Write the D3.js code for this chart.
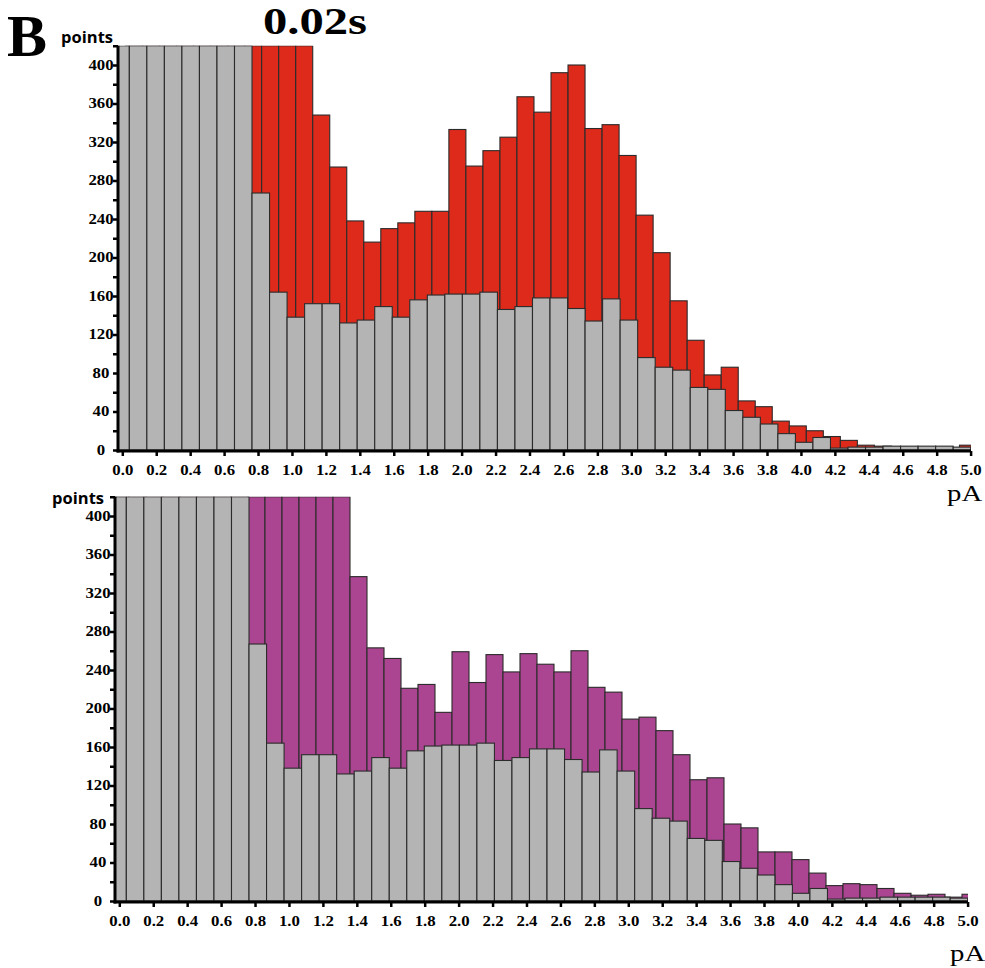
<!DOCTYPE html>
<html lang="en">
<head>
<meta charset="UTF-8">
<title>Amplitude histograms</title>
<script src="https://d3js.org/d3.v7.min.js"></script>
<style>
  body { margin: 0; background: #fff; }
  svg { display: block; }
</style>
</head>
<body>
<div id="chart"></div>
<script>
// Counts per bin. Bins that run past the top of the axis are entered as 420 (axis end).
const controlCounts = [420, 420, 420, 420, 420, 420, 420, 420,
  267, 164, 138, 152, 152, 132, 135, 149, 138, 156, 161, 162, 162, 164, 146, 149,
  158, 158, 147, 134, 157, 135, 96, 86, 83, 65, 63, 41, 34, 27, 17, 8, 13, 2,
  3, 3, 4, 4, 4, 4, 3];

const redCounts = [420, 420, 420, 420, 420, 420, 420, 420, 420, 420, 420,
  348, 294, 238, 216, 230, 236, 248, 248, 333, 295, 311, 325, 367, 351, 392, 400,
  334, 338, 306, 244, 205, 155, 114, 78, 86, 51, 45, 30, 25, 20, 14, 10, 5, 4,
  3, 2, 2, 2, 5];

const purpleCounts = [420, 420, 420, 420, 420, 420, 420, 420, 420, 420, 420, 420, 420, 420,
  337, 263, 252, 221, 225, 196, 259, 227, 256, 238, 257, 246, 238, 260, 222, 217,
  189, 191, 177, 152, 126, 128, 80, 76, 51, 51, 43, 29, 16, 18, 17, 13, 8, 6, 7, 4, 7];

const xTickValues = [0, 0.2, 0.4, 0.6, 0.8, 1.0, 1.2, 1.4, 1.6, 1.8, 2.0, 2.2, 2.4,
  2.6, 2.8, 3.0, 3.2, 3.4, 3.6, 3.8, 4.0, 4.2, 4.4, 4.6, 4.8, 5.0];
const yLabelValues = [0, 40, 80, 120, 160, 200, 240, 280, 320, 360, 400];
const yTickValues = d3.range(0, 421, 20);

const svgWidth = 985;
const svgHeight = 968;
const yMax = 420;
const axisX = 118;
const axisY = 451;
const plotRight = 971;
const stretch = 1.2;  // the printed figure is a little wider than tall

const svg = d3.select("#chart")
  .append("svg")
  .attr("width", svgWidth)
  .attr("height", svgHeight);

const y = d3.scaleLinear().domain([0, yMax]).range([450, 45.75]);
const x = d3.scaleLinear().domain([0, 5]).range([122.3, 970.6]);

const controlBand = d3.scaleBand()
  .domain(d3.range(controlCounts.length))
  .range([111.8, 970.7]);
const redBand = d3.scaleBand()
  .domain(d3.range(redCounts.length))
  .range([125.5, 976.5]);
const purpleBand = d3.scaleBand()
  .domain(d3.range(purpleCounts.length))
  .range([115, 982]);

const serif = "'Liberation Serif', 'Times New Roman', serif";

function drawPanel(g, id, counts, band, color) {
  g.append("clipPath").attr("id", id)
    .append("rect")
    .attr("x", axisX)
    .attr("y", y(yMax))
    .attr("width", plotRight - axisX)
    .attr("height", y(0) - y(yMax) + 1);

  const plot = g.append("g").attr("clip-path", `url(#${id})`);

  // test condition behind
  plot.selectAll(".bar-test")
    .data(counts)
    .join("rect")
    .attr("class", "bar-test")
    .attr("x", (d, i) => band(i))
    .attr("y", d => y(d))
    .attr("width", band.bandwidth())
    .attr("height", d => y(0) - y(d))
    .attr("fill", color)
    .attr("stroke", "#2b2b2b")
    .attr("stroke-width", 1.1);

  // control in front
  plot.selectAll(".bar-ctrl")
    .data(controlCounts)
    .join("rect")
    .attr("class", "bar-ctrl")
    .attr("x", (d, i) => controlBand(i))
    .attr("y", d => y(d))
    .attr("width", controlBand.bandwidth())
    .attr("height", d => y(0) - y(d))
    .attr("fill", "#b4b4b4")
    .attr("stroke", "#2b2b2b")
    .attr("stroke-width", 1.1);

  // y axis
  const yAxis = g.append("g")
    .attr("transform", `translate(${axisX},0)`)
    .call(d3.axisLeft(y)
      .tickValues(yTickValues)
      .tickSize(5)
      .tickSizeOuter(0)
      .tickFormat(d => yLabelValues.includes(d) ? d : ""));
  yAxis.select(".domain").remove();
  yAxis.selectAll(".tick line").attr("stroke", "#000").attr("stroke-width", 2.5);
  yAxis.selectAll(".tick text")
    .attr("text-anchor", "middle")
    .attr("x", -17 / stretch)
    .attr("transform", `scale(${stretch},1)`)
    .style("font-family", serif)
    .style("font-weight", "bold")
    .style("font-size", "14px")
    .attr("fill", "#000");

  // x axis
  const xAxis = g.append("g")
    .attr("transform", `translate(0,${axisY})`)
    .call(d3.axisBottom(x)
      .tickValues(xTickValues)
      .tickSize(5)
      .tickSizeOuter(0)
      .tickFormat(d3.format(".1f")));
  xAxis.select(".domain").remove();
  xAxis.selectAll(".tick line").attr("stroke", "#000").attr("stroke-width", 2.5);
  xAxis.selectAll(".tick text")
    .attr("y", 24.5)
    .attr("dy", 0)
    .attr("transform", `scale(${stretch},1)`)
    .style("font-family", serif)
    .style("font-weight", "bold")
    .style("font-size", "14px")
    .attr("fill", "#000");

  // heavy axis lines
  g.append("line")
    .attr("x1", axisX).attr("x2", axisX)
    .attr("y1", y(yMax)).attr("y2", axisY + 1.5)
    .attr("stroke", "#000").attr("stroke-width", 3);
  g.append("line")
    .attr("x1", axisX - 1.5).attr("x2", plotRight)
    .attr("y1", axisY).attr("y2", axisY)
    .attr("stroke", "#000").attr("stroke-width", 3);
}

const topPanel = svg.append("g");
drawPanel(topPanel, "clip-top", redCounts, redBand, "#de2a1b");

const bottomPanel = svg.append("g").attr("transform", "translate(-3,451)");
drawPanel(bottomPanel, "clip-bottom", purpleCounts, purpleBand, "#ab4591");

// labels
svg.append("text")
  .attr("x", 7).attr("y", 56)
  .text("B")
  .style("font-family", serif)
  .style("font-weight", "bold")
  .style("font-size", "60px");

svg.append("text")
  .attr("transform", `translate(315,34) scale(1.28,1)`)
  .attr("text-anchor", "middle")
  .text("0.02s")
  .style("font-family", serif)
  .style("font-weight", "bold")
  .style("font-size", "38px");

svg.append("text")
  .attr("x", 113).attr("y", 43)
  .attr("text-anchor", "end")
  .text("points")
  .style("font-family", "'Open Sans', sans-serif")
  .style("font-weight", "bold")
  .style("font-size", "16.5px");

svg.append("text")
  .attr("x", 104).attr("y", 504)
  .attr("text-anchor", "end")
  .text("points")
  .style("font-family", "'Open Sans', sans-serif")
  .style("font-weight", "bold")
  .style("font-size", "16.5px");

svg.append("text")
  .attr("transform", `translate(947,501) scale(${stretch},1)`)
  .text("pA")
  .style("font-family", serif)
  .style("font-size", "24px");

svg.append("text")
  .attr("transform", `translate(950,961) scale(${stretch},1)`)
  .text("pA")
  .style("font-family", serif)
  .style("font-size", "24px");
</script>
</body>
</html>
